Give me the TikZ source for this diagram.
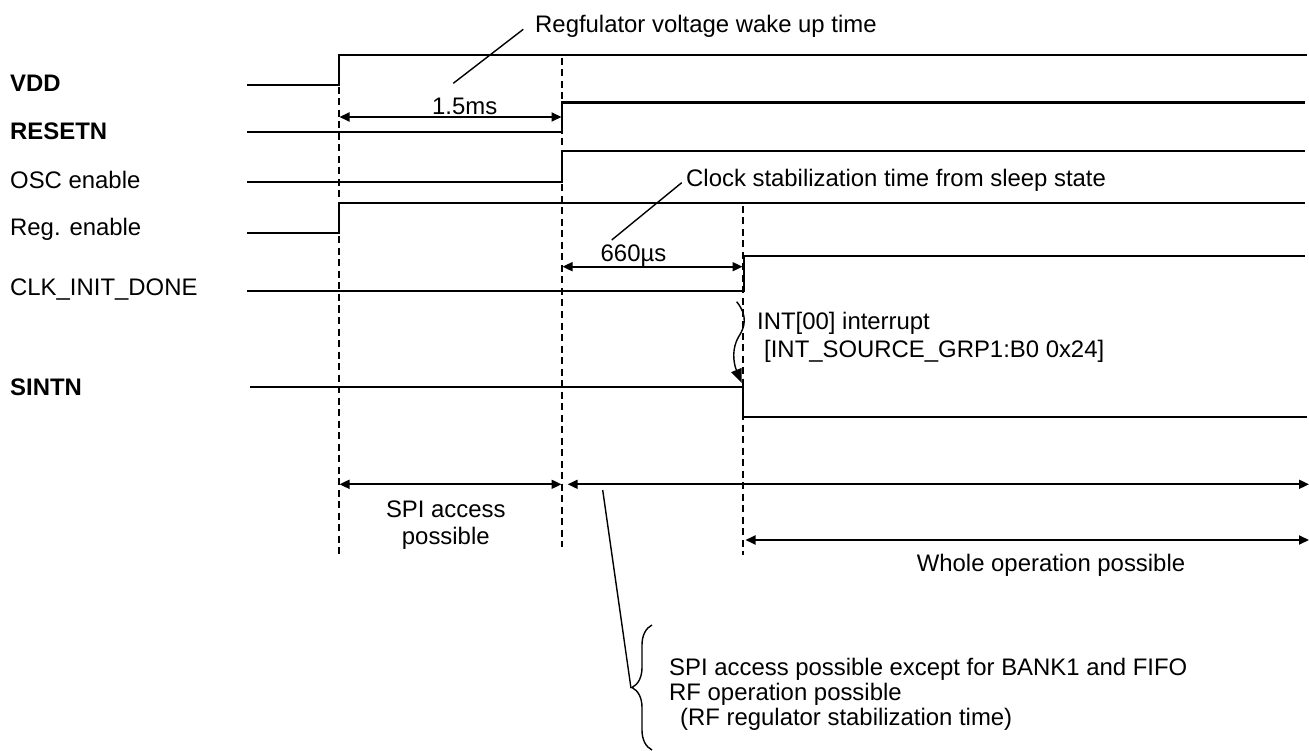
\documentclass[tikz,border=0pt]{standalone}
\usepackage{fontspec}
\setmainfont{Liberation Sans}
\usetikzlibrary{arrows.meta,decorations.pathreplacing}
\begin{document}
\begin{tikzpicture}[x=1pt,y=-1pt,
  sig/.style={line width=2.1pt},
  guide/.style={line width=1.6pt, dash pattern=on 7pt off 4.5pt},
  dim/.style={line width=1.8pt, {Triangle[length=10pt,width=9pt]}-{Triangle[length=10pt,width=9pt]}},
  lead/.style={line width=1.4pt},
  lbl/.style={inner sep=0pt, anchor=base west, font=\fontsize{23.9}{27}\selectfont},
  clbl/.style={inner sep=0pt, anchor=base, font=\fontsize{23.9}{27}\selectfont},
  bl/.style={lbl, font=\fontsize{23.9}{27}\selectfont\bfseries}]
\useasboundingbox (0,0) rectangle (1309,751);

% signal names
\node[bl]  (vdd)  at (10,91.7)  {VDD};
\node[bl]  (rst)  at (10,140)   {RESETN};
\node[lbl] (osc)  at (10,188.3) {OSC enable};
\node[lbl] (reg)  at (10,236)   {Reg. enable};
\node[lbl] (clk)  at (10,295)   {CLK\_INIT\_DONE};
\node[bl]  (sint) at (10,395)   {SINTN};

% waveforms
\draw[sig] (247,85) -- (339,85) -- (339,55) -- (1307,55);
\draw[sig] (247,132) -- (562,132) -- (562,102.5) -- (1305,102.5);
\draw[sig] (247,181.7) -- (562,181.7) -- (562,150.7) -- (1305,150.7);
\draw[sig] (247,233) -- (339,233) -- (339,203.3) -- (1305,203.3);
\draw[sig] (247,290.7) -- (744,290.7) -- (744,255.7) -- (1305,255.7);
\draw[sig] (250,386.7) -- (743,386.7) -- (743,416.7) -- (1307,416.7);

% guide lines
\coordinate (g1t) at (339,87);  \coordinate (g1b) at (339,557);
\coordinate (g2t) at (562,58);  \coordinate (g2b) at (562,547);
\coordinate (g3t) at (743,206); \coordinate (g3b) at (743,555);
\draw[guide] (g1t) -- (g1b);
\draw[guide] (g2t) -- (g2b);
\draw[guide] (g3t) -- (g3b);

% 1.5 ms
\coordinate (a1l) at (339.5,117); \coordinate (a1r) at (561.5,117);
\draw[dim] (a1l) -- (a1r);
\node[clbl] (t15) at (464.7,115) {1.5ms};
\node[lbl] (regtxt) at (535,32.3) {Regfulator voltage wake up time};
\coordinate (l1a) at (453.3,83.3); \coordinate (l1b) at (523.3,29.3);
\draw[lead] (l1a) -- (l1b);

% 660 us
\coordinate (a2l) at (562.5,266.7); \coordinate (a2r) at (742.5,266.7);
\draw[dim] (a2l) -- (a2r);
\node[clbl] (t660) at (633.5,261.7) {660µs};
\node[lbl] (clktxt) at (686,186.7) {Clock stabilization time from sleep state};
\coordinate (l2a) at (611.7,240); \coordinate (l2b) at (681.7,182.7);
\draw[lead] (l2a) -- (l2b);

% interrupt
\coordinate (w0) at (736.7,301.7); \coordinate (w1) at (741.7,383);
\draw[lead, -{Triangle[length=14pt,width=11pt]}] (w0) .. controls (748,316) and (745,327) .. (738.5,337)
   .. controls (732,348) and (733,362) .. (w1);
\node[lbl] (int1) at (757,329.3) {INT[00] interrupt};
\node[lbl] (int2) at (764,357.3) {[INT\_SOURCE\_GRP1:B0 0x24]};

% access periods
\coordinate (b1l) at (339.5,484.3); \coordinate (b1r) at (561.5,484.3);
\draw[dim] (b1l) -- (b1r);
\node[clbl] (spi1) at (445.8,517.3) {SPI access};
\node[clbl] (spi2) at (445.8,544.3) {possible};
\coordinate (b2l) at (567.7,484.3); \coordinate (b2r) at (1309,484.3);
\draw[dim] (b2l) -- (b2r);
\coordinate (b3l) at (745.5,540); \coordinate (b3r) at (1309,540);
\draw[dim] (b3l) -- (b3r);
\node[clbl] (whole) at (1051,571.7) {Whole operation possible};

% brace and note
\coordinate (brb) at (652,750); \coordinate (brt) at (652,625);
\draw[lead, decorate, decoration={brace, amplitude=20pt}] (brb) -- (brt);
\coordinate (l3a) at (602.7,490); \coordinate (l3b) at (631,688.3);
\draw[lead] (l3a) -- (l3b);
\node[lbl] (n1) at (669,675) {SPI access possible except for BANK1 and FIFO};
\node[lbl] (n2) at (669,700) {RF operation possible};
\node[lbl] (n3) at (680,725) {(RF regulator stabilization time)};
\end{tikzpicture}
\end{document}
